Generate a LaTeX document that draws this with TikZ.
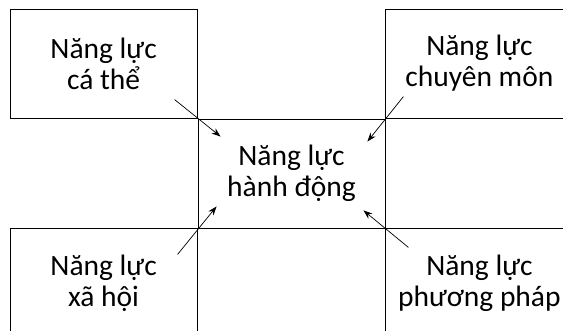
\documentclass[tikz,border=0pt]{standalone}
\usepackage{fontspec}
\setmainfont{Carlito}
\usetikzlibrary{positioning,arrows.meta}

\tikzset{
  cell/.style={draw, line width=0.9pt, minimum width=187pt, minimum height=109pt,
    inner sep=0pt, align=center, font=\fontsize{29.5}{31}\selectfont},
  arr/.style={-{Stealth[length=9pt,width=6.5pt]}, line width=0.7pt},
}

\begin{document}
\begin{tikzpicture}
    \useasboundingbox (0,0) rectangle (563pt,331pt);
    \clip (0,0) rectangle (563pt,331pt);

    % Central cell
    \node[cell] (hanhdong) at (291.5pt,157.5pt) {Năng lực\\hành động};

    % Corner cells
    \node[cell, above left=0pt of hanhdong] (cathe) {Năng lực\\cá thể};
    \node[cell, above right=0pt of hanhdong] (chuyenmon) {Năng lực\\chuyên môn};
    \node[cell, below left=0pt of hanhdong] (xahoi) {Năng lực\\xã hội};
    \node[cell, below right=0pt of hanhdong] (phuongphap) {Năng lực\\phương pháp};

    % Arrows across the corners
    \draw[arr] ([shift={(-23pt,19pt)}]hanhdong.north west) -- ([shift={(23pt,-18pt)}]hanhdong.north west);
    \draw[arr] ([shift={(18pt,22pt)}]hanhdong.north east) -- ([shift={(-18pt,-23pt)}]hanhdong.north east);
    \draw[arr] ([shift={(-20pt,-26pt)}]hanhdong.south west) -- ([shift={(19pt,22pt)}]hanhdong.south west);
    \draw[arr] ([shift={(23pt,-19pt)}]hanhdong.south east) -- ([shift={(-22pt,18pt)}]hanhdong.south east);
\end{tikzpicture}
\end{document}
